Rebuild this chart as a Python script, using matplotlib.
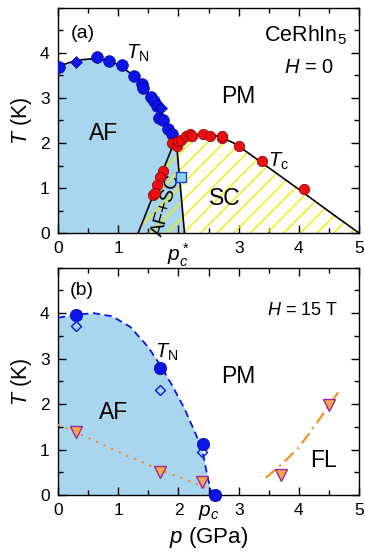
import numpy as np
import matplotlib
matplotlib.use("Agg")
import matplotlib.pyplot as plt
from matplotlib.ticker import MultipleLocator

plt.rcParams["font.family"] = ["Liberation Sans", "DejaVu Sans"]
plt.rcParams["mathtext.fontset"] = "custom"
plt.rcParams["mathtext.rm"] = "Liberation Sans"
plt.rcParams["mathtext.it"] = "Liberation Sans:italic"
plt.rcParams["hatch.color"] = "#f5ea00"
plt.rcParams["hatch.linewidth"] = 1.0

# ---- panel (a), H = 0 ----
tn_p = [0.02, 0.64, 0.84, 1.07, 1.26, 1.39, 1.41, 1.55, 1.59, 1.64, 1.68, 1.75, 1.83, 1.89]
tn_t = [3.68, 3.90, 3.83, 3.73, 3.48, 3.31, 3.23, 3.03, 2.93, 2.82, 2.56, 2.52, 2.30, 2.19]
tn_dia_p = [0.30, 1.71]
tn_dia_t = [3.79, 2.78]
tc_p = [1.89, 1.97, 2.00, 2.05, 2.13, 2.19, 2.23, 2.41, 2.53, 2.72, 2.72, 3.00, 3.39, 4.08,
        1.75, 1.69, 1.64, 1.58, 1.61]
tc_t = [2.00, 1.93, 2.04, 2.06, 2.15, 2.19, 2.16, 2.21, 2.15, 2.11, 2.15, 1.93, 1.59, 0.97,
        1.37, 1.25, 1.07, 0.84, 0.90]
sq_p = [2.05]
sq_t = [1.25]

# line knots
tn_line_p = [0.0, 0.2, 0.4, 0.6, 0.8, 1.0, 1.2, 1.4, 1.6, 1.75, 1.85, 1.92]
tn_line_t = [3.70, 3.79, 3.85, 3.87, 3.84, 3.74, 3.55, 3.28, 2.95, 2.58, 2.25, 1.95]
tc_line_p = [1.95, 2.1, 2.3, 2.5, 2.7, 2.9, 3.0, 3.5, 4.0, 4.5, 5.0]
tc_line_t = [2.00, 2.12, 2.19, 2.20, 2.13, 2.01, 1.93, 1.45, 0.97, 0.48, 0.0]
left_bd_p = [1.33, 1.90]
left_bd_t = [0.0, 1.92]
right_bd_p = [2.10, 1.97]
right_bd_t = [0.0, 1.95]

# ---- panel (b), H = 15 T ----
b_tn_p = [0.30, 1.70, 2.40, 2.61]
b_tn_t = [3.97, 2.79, 1.12, 0.01]
b_dia_p = [0.30, 1.70, 2.39]
b_dia_t = [3.71, 2.32, 0.95]
b_tri_p = [0.30, 1.70, 2.39, 3.70, 4.50]
b_tri_t = [1.38, 0.50, 0.28, 0.43, 1.97]
b_tn_line_p = [0.0, 0.3, 0.6, 0.9, 1.2, 1.5, 1.7, 1.9, 2.1, 2.3, 2.4, 2.45, 2.5, 2.55]
b_tn_line_t = [3.90, 3.97, 4.00, 3.93, 3.70, 3.25, 2.85, 2.40, 1.90, 1.30, 0.95, 0.62, 0.30, 0.0]
b_low_p = [0.0, 0.3, 1.0, 1.7, 2.0, 2.5]
b_low_t = [1.55, 1.38, 0.95, 0.55, 0.40, 0.13]
b_fl_p = [3.45, 3.7, 4.0, 4.25, 4.5, 4.7]
b_fl_t = [0.38, 0.66, 1.05, 1.50, 1.97, 2.35]

blue = "#0a14e6"
red = "#ee1010"
fillblue = "#a8d6ee"
orange = "#ff8a1a"

fig = plt.figure(figsize=(3.65, 5.59), dpi=100)
ax1 = fig.add_axes([0.159, 0.583, 0.825, 0.403])
ax2 = fig.add_axes([0.159, 0.1145, 0.825, 0.4065])

def style(ax):
    ax.set_xlim(0, 5)
    ax.set_ylim(0, 5)
    ax.xaxis.set_minor_locator(MultipleLocator(0.5))
    ax.yaxis.set_minor_locator(MultipleLocator(0.5))
    ax.set_yticks([0, 1, 2, 3, 4])
    ax.tick_params(which="both", direction="in", top=True, right=True, labelsize=12.5, width=1.0)
    ax.tick_params(which="major", length=6, pad=6)
    ax.tick_params(which="minor", length=3.5)
    for s in ax.spines.values():
        s.set_linewidth(1.0)
    ax.set_ylabel("$T$ (K)", fontsize=15.5, labelpad=4)

# panel (a)
style(ax1)
# AF region (blue), bounded by TN line and the pc* boundary
ax1.fill(tn_line_p + [right_bd_p[1], right_bd_p[0], 0.0],
         tn_line_t + [right_bd_t[1], right_bd_t[0], 0.0],
         color=fillblue, lw=0, zorder=1)
# SC region (yellow hatch)
sc_p = left_bd_p + tc_line_p
sc_t = left_bd_t + tc_line_t
ax1.fill(sc_p, sc_t, facecolor="none", edgecolor="#f5ea00", hatch="//", lw=0, zorder=2)
ax1.plot(tn_line_p, tn_line_t, color="k", lw=1.2, zorder=3)
ax1.plot(tc_line_p, tc_line_t, color="k", lw=1.2, zorder=3)
ax1.plot(left_bd_p, left_bd_t, color="k", lw=1.2, zorder=3)
ax1.plot(right_bd_p, right_bd_t, color="k", lw=1.2, zorder=3)

ax1.plot(tn_p, tn_t, "o", color=blue, mec="#000080", mew=0.4, ms=8.5, zorder=5)
ax1.plot(tn_dia_p, tn_dia_t, "D", color=blue, mec="#000080", mew=0.4, ms=6, zorder=5)
ax1.plot(tc_p, tc_t, "o", color=red, mec="#800000", mew=0.5, ms=7.5, zorder=5)
ax1.plot(sq_p, sq_t, "s", color="#8fd0f5", mec="#1a40e0", mew=1.0, ms=7.5, zorder=6)

ax1.set_xticks([0, 1, 2, 3, 4, 5])
ax1.set_xticklabels(["0", "1", "$p_c^*$", "3", "4", "5"])
ax1.get_xticklabels()[2].set_fontsize(15)
ax1.text(0.41, 4.43, "(a)", fontsize=14, ha="center", va="center")
ax1.text(1.33, 3.98, "$T_\\mathrm{N}$", fontsize=14.5, ha="center", va="center")
ax1.text(4.80, 4.40, "CeRhIn$_5$", fontsize=15.5, ha="right", va="center")
ax1.text(4.58, 3.68, "$H$ = 0", fontsize=14.5, ha="right", va="center")
ax1.text(2.99, 3.04, "PM", fontsize=16.5, ha="center", va="center")
ax1.text(0.75, 2.22, "AF", fontsize=16.5, ha="center", va="center")
ax1.text(2.77, 0.77, "SC", fontsize=16.5, ha="center", va="center")
ax1.text(3.66, 1.60, "$T_\\mathrm{c}$", fontsize=14.5, ha="center", va="center")
ax1.text(1.80, 0.62, "AF+SC", fontsize=14, ha="center", va="center", rotation=74)

# panel (b)
style(ax2)
ax2.fill_between(b_tn_line_p, b_tn_line_t, 0, color=fillblue, lw=0, zorder=1)
ax2.plot(b_tn_line_p, b_tn_line_t, color=blue, lw=1.3, ls=(0, (4, 2.5)), zorder=3)
ax2.plot(b_low_p, b_low_t, color=orange, lw=1.5, ls=(0, (1, 3)), zorder=3)
ax2.plot(b_fl_p, b_fl_t, color=orange, lw=1.5, ls=(0, (6, 2.5, 1, 2.5)), zorder=3)
ax2.plot(b_tn_p, b_tn_t, "o", color=blue, mec="#000080", mew=0.4, ms=9, zorder=5, clip_on=False)
ax2.plot(b_dia_p, b_dia_t, "D", mfc="none", mec=blue, mew=1.0, ms=5.5, zorder=5)
ax2.plot(b_tri_p, b_tri_t, "v", color="#f7a84a", mec="#9a2a9a", mew=1.0, ms=8, zorder=5)

ax2.set_xticks([0, 1, 2, 2.5, 3, 4, 5])
ax2.set_xticklabels(["0", "1", "2", "$p_c$", "3", "4", "5"])
ax2.get_xticklabels()[3].set_fontsize(15)
ax2.set_xlabel("$p$ (GPa)", fontsize=16, labelpad=2)
ax2.text(0.39, 4.49, "(b)", fontsize=14, ha="center", va="center")
ax2.text(4.65, 4.05, "$H$ = 15 T", fontsize=13, ha="right", va="center")
ax2.text(1.80, 3.13, "$T_\\mathrm{N}$", fontsize=14.5, ha="center", va="center")
ax2.text(2.99, 2.60, "PM", fontsize=16.5, ha="center", va="center")
ax2.text(0.92, 1.82, "AF", fontsize=16.5, ha="center", va="center")
ax2.text(4.41, 0.75, "FL", fontsize=16.5, ha="center", va="center")

fig.savefig("out.png", dpi=100)
